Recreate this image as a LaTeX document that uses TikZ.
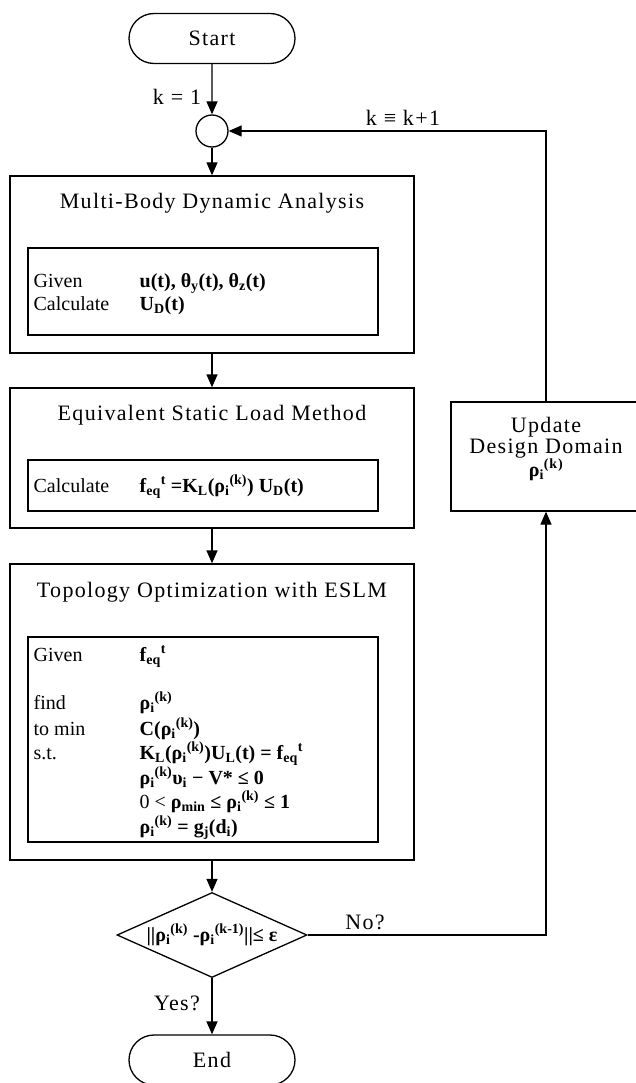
\documentclass[tikz,border=0pt]{standalone}
\usepackage{fontspec}
\setmainfont{Liberation Serif}
\newfontfamily\ttlfamily[LetterSpace=6]{Liberation Serif}
\usetikzlibrary{shapes.geometric,shapes.misc,arrows.meta}
\newcommand{\rk}{ρ\textsubscript{i}\textsuperscript{(k)}}
\newcommand{\feq}{f\textsubscript{eq}\textsuperscript{t}}
\tikzset{
  ttl/.style={font=\ttlfamily\fontsize{22}{22}\selectfont, inner sep=0pt},
  term/.style={rounded rectangle, draw, minimum width=166pt, minimum height=50pt, inner sep=0pt, font=\ttlfamily\fontsize{22}{22}\selectfont},
  outerbox/.style={draw, rectangle, minimum width=404pt, inner sep=0pt},
  innerbox/.style={draw, rectangle, minimum width=350pt, inner sep=0pt},
  body/.style={font=\fontsize{20}{24}\selectfont, anchor=base west, inner sep=0pt},
  mth/.style={font=\fontsize{20}{24}\selectfont\bfseries, anchor=base west, inner sep=0pt},
  conn/.style={-{Triangle[length=13pt,width=11pt]}},
  junction/.style={circle, draw, minimum size=32pt, inner sep=0pt},
  decision/.style={diamond, draw, aspect=2.24, minimum width=190pt, minimum height=85pt, inner sep=0pt, font=\fontsize{20}{24}\selectfont\bfseries}
}
\begin{document}
\begin{tikzpicture}[x=1pt, y=-1pt, line width=1.3pt]
\useasboundingbox (0,0) rectangle (636,1083);
\clip (0,0) rectangle (636,1083);
% terminals and junction
\node[term] (start) at (212,38.5) {Start};
\node[ttl] (k1) at (177,97) {k = 1};
\node[junction] (junc) at (212,131) {};
\node[ttl] (kk) at (403,118) {k ≡ k+1};
% box 1
\node[outerbox, minimum height=177pt] (mbda) at (212,264.5) {};
\node[ttl] (mbdaT) at (212,203) {Multi-Body Dynamic Analysis};
\node[innerbox, minimum height=87pt] (mbdaI) at (203,291.5) {};
\node[body] (g1) at (33,287) {Given};
\node[mth] (g1v) at (139,287) {u(t), θ\textsubscript{y}(t), θ\textsubscript{z}(t)};
\node[body] (c1) at (33,310) {Calculate};
\node[mth] (c1v) at (139,310) {U\textsubscript{D}(t)};
% box 2
\node[outerbox, minimum height=140pt] (eslm) at (212,458) {};
\node[ttl] (eslmT) at (212,415) {Equivalent Static Load Method};
\node[innerbox, minimum height=51pt] (eslmI) at (203,485.5) {};
\node[body] (c2) at (33,492) {Calculate};
\node[mth] (c2v) at (139,492) {\feq{} =K\textsubscript{L}(\rk) U\textsubscript{D}(t)};
% box 3
\node[outerbox, minimum height=296pt] (topo) at (212,712) {};
\node[ttl] (topoT) at (212,592) {Topology Optimization with ESLM};
\node[innerbox, minimum height=205pt] (topoI) at (203,739.5) {};
\node[body] (g3) at (33,661) {Given};
\node[mth] (g3v) at (139,661) {\feq};
\node[body] (f3) at (33,709) {find};
\node[mth] (f3v) at (139,709) {\rk};
\node[body] (m3) at (33,735) {to min};
\node[mth] (m3v) at (139,735) {C(\rk)};
\node[body] (s3) at (33,759) {s.t.};
\node[mth] (s3a) at (139,759) {K\textsubscript{L}(\rk)U\textsubscript{L}(t) = \feq};
\node[mth] (s3b) at (139,784) {\rk υ\textsubscript{i} − V* ≤ 0};
\node[mth] (s3c) at (139,808) {\mdseries 0 <\bfseries{} ρ\textsubscript{min} ≤ \rk{} ≤ 1};
\node[mth] (s3d) at (139,833) {\rk{} = g\textsubscript{j}(d\textsubscript{i})};
% update box
\node[draw, rectangle, minimum width=190pt, minimum height=109pt, inner sep=0pt] (upd) at (546,456.5) {};
\node[ttl, align=center, font=\ttlfamily\fontsize{22}{21}\selectfont] (updT) at (546,449) {Update\\Design Domain\\{\fontsize{20}{21}\selectfont\bfseries\rk}};
% decision and end
\node[decision] (dec) at (212,935) {||ρ\textsubscript{i}\textsuperscript{(k)} -ρ\textsubscript{i}\textsuperscript{(k-1)}||≤ ε};
\node[ttl] (no) at (365,922) {No?};
\node[ttl] (yes) at (177,1003) {Yes?};
\node[term] (end) at (212,1060) {End};
% connectors
\draw[conn] (start) -- (junc);
\draw[conn] (junc) -- (mbda);
\draw[conn] (mbda) -- (eslm);
\draw[conn] (eslm) -- (topo);
\draw[conn] (topo) -- (dec);
\draw[conn] (dec) -- (end);
\draw[conn] (dec.east) -| (upd.south);
\draw[conn] (upd.north) |- (junc.east);
\end{tikzpicture}
\end{document}
